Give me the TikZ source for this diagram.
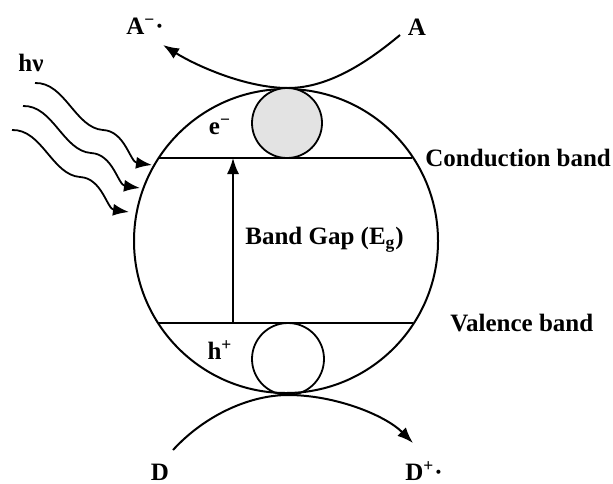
\documentclass[tikz,border=0pt]{standalone}
\usepackage{fontspec}
\setmainfont{Liberation Serif}
\usetikzlibrary{arrows.meta,positioning}
\tikzset{
  bandlabel/.style={
    font=\bfseries\fontsize{12.5}{15}\selectfont,
    inner sep=0pt
  },
  grainbody/.style={
    draw,
    circle,
    line width=1pt,
    inner sep=0pt
  },
  carrier/.style={
    draw,
    circle,
    line width=0.9pt,
    inner sep=0pt,
    minimum size=35pt
  },
  bandline/.style={
    line width=0.8pt
  },
  flowarrow/.style={
    -{Latex[length=8pt,width=6pt]},
    line width=1pt
  },
  photon/.style={
    -{Latex[length=8pt,width=6pt]},
    line width=0.9pt
  }
}
\begin{document}
\begin{tikzpicture}[x=0.5pt,y=-0.5pt]
    \useasboundingbox (0,0) rectangle (613,483);

    \node[grainbody, minimum size=152pt] (grain) at (286,241) {};
    \node[carrier, fill=gray!22] (elec) at (287,123) {};
    \node[carrier, minimum size=36pt] (hole) at (288,359) {};

    % bands
    \coordinate (cbL) at (158,158);
    \coordinate (cbR) at (412,158);
    \coordinate (vbL) at (158,323);
    \coordinate (vbR) at (413,323);
    \draw[bandline] (cbL) -- (cbR);
    \draw[bandline] (vbL) -- (vbR);
    \coordinate (gapB) at (233,323);
    \coordinate (gapT) at (233,158);
    \draw[bandline, -{Latex[length=8pt,width=6pt]}] (gapB) -- (gapT);

    \node[bandlabel, right=6.5pt of cbR] (cb) {Conduction band};
    \node[bandlabel, right=18.5pt of vbR] (vb) {Valence band};
    \node[bandlabel, anchor=west] (gap) at (245,240) {Band Gap (E\textsubscript{g})};
    \node[bandlabel] (eminus) at (220,127) {e\textsuperscript{−}};
    \node[bandlabel] (hplus) at (220,350) {h\textsuperscript{+}};

    % acceptor and donor
    \node[bandlabel] (accA) at (417,27) {A};
    \node[bandlabel] (accR) at (145,26) {A\textsuperscript{−}·};
    \node[bandlabel, anchor=base] (donD) at (160,480) {D};
    \node[bandlabel, anchor=base west] (donR) at (405,480) {D\textsuperscript{+}·};
    \coordinate (aStart) at (400,35);
    \coordinate (topT) at (288,88);
    \coordinate (aEnd) at (163,45);
    \coordinate (dStart) at (173,450);
    \coordinate (botT) at (288,395);
    \coordinate (dEnd) at (413,443);
    \draw[flowarrow] (aStart) .. controls (370,60) and (330,88) .. (topT)
      .. controls (245,88) and (195,65) .. (aEnd);
    \draw[flowarrow] (dStart) .. controls (205,415) and (250,395) .. (botT)
      .. controls (335,395) and (385,415) .. (dEnd);

    % light
    \node[bandlabel] (light) at (31,63) {hν};
    \foreach \i/\dx/\dy in {1/0/0, 2/-12/23, 3/-23/47} {
      \coordinate (hv\i s) at (35+\dx,83+\dy);
      \coordinate (hv\i e) at (152+\dx,165+\dy);
      \draw[photon] (hv\i s) .. controls +(30,-1) and +(-28,-2) .. ++(68,47)
        .. controls +(22,1) and +(-22,-3) .. (hv\i e);
    }
  \end{tikzpicture}
\end{document}
